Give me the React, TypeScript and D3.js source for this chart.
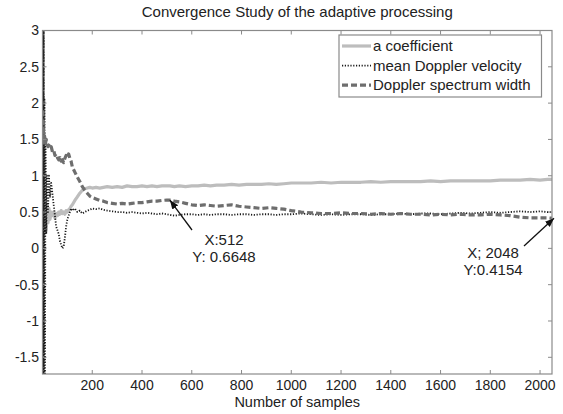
import React from "react";
import * as d3 from "d3";

const samples = [
  1, 2, 3, 4, 5, 6, 8, 10, 12, 15,
  18, 22, 26, 30, 35, 40, 45, 50, 55, 60,
  65, 70, 75, 80, 85, 90, 95, 100, 105, 110,
  115, 120, 130, 140, 150, 160, 170, 180, 190, 200,
  215, 230, 245, 260, 280, 300, 320, 340, 360, 380,
  400, 420, 440, 460, 480, 500, 512, 530, 550, 575,
  600, 625, 650, 675, 700, 730, 760, 790, 820, 850,
  880, 910, 940, 970, 1000, 1040, 1080, 1120, 1160, 1200,
  1240, 1280, 1320, 1360, 1400, 1440, 1480, 1520, 1560, 1600,
  1640, 1680, 1720, 1760, 1800, 1840, 1880, 1920, 1960, 2000,
  2030, 2048,
];

const aCoefficient = [
  1.8, 1.2, 1.65, 0.9, 1.5, 0.6, 1.1, 0.3, 0.8, 0.25,
  0.6, 0.35, 0.55, 0.4, 0.5, 0.45, 0.5, 0.42, 0.48, 0.45,
  0.5, 0.47, 0.52, 0.48, 0.5, 0.47, 0.52, 0.5, 0.53, 0.55,
  0.58, 0.6, 0.66, 0.71, 0.76, 0.8, 0.82, 0.83, 0.84, 0.83,
  0.84, 0.83, 0.84, 0.85, 0.84, 0.85, 0.84, 0.86, 0.85, 0.85,
  0.86, 0.85, 0.86, 0.85, 0.86, 0.86, 0.86, 0.85, 0.86, 0.85,
  0.86, 0.86, 0.87, 0.86, 0.87, 0.87, 0.88, 0.87, 0.88, 0.88,
  0.88, 0.89, 0.88, 0.89, 0.9, 0.9, 0.9, 0.91, 0.9, 0.91,
  0.91, 0.91, 0.92, 0.91, 0.92, 0.92, 0.92, 0.92, 0.93, 0.92,
  0.93, 0.93, 0.93, 0.93, 0.93, 0.94, 0.94, 0.94, 0.95, 0.94,
  0.95, 0.95,
];

const meanVelocity = [
  3.6, -2.2, 3.4, -1.9, 3.2, -2.0, 2.05, -1.8, 1.5, 0.2,
  1.0, 0.5, 1.0, 0.7, 0.9, 0.75, 0.6, 0.45, 0.3, 0.25,
  0.2, 0.1, 0.05, 0.0, 0.02, 0.15, 0.3, 0.4, 0.45, 0.5,
  0.55, 0.52, 0.55, 0.5, 0.52, 0.48, 0.5, 0.52, 0.53, 0.55,
  0.54, 0.55, 0.53, 0.52, 0.51, 0.5, 0.5, 0.49, 0.5, 0.49,
  0.48, 0.49, 0.48, 0.47, 0.48, 0.47, 0.46, 0.45, 0.46, 0.47,
  0.47, 0.46, 0.47, 0.46, 0.47, 0.47, 0.46, 0.47, 0.47, 0.46,
  0.47, 0.47, 0.46, 0.47, 0.47, 0.48, 0.47, 0.46, 0.47, 0.46,
  0.47, 0.47, 0.46, 0.47, 0.47, 0.48, 0.47, 0.48, 0.48, 0.47,
  0.48, 0.49, 0.48, 0.49, 0.5, 0.49, 0.5, 0.51, 0.5, 0.51,
  0.5, 0.5,
];

const spectrumWidth = [
  1.9, 1.5, 1.75, 1.55, 1.6, 1.45, 1.55, 1.5, 1.45, 1.5,
  1.45, 1.4, 1.42, 1.38, 1.4, 1.33, 1.35, 1.28, 1.3, 1.25,
  1.22, 1.25, 1.2, 1.22, 1.18, 1.24, 1.28, 1.25, 1.3, 1.24,
  1.2, 1.12, 1.05, 0.98, 0.92, 0.85, 0.8, 0.76, 0.72, 0.7,
  0.68, 0.66, 0.65, 0.63, 0.62, 0.61, 0.62, 0.61, 0.62, 0.63,
  0.63, 0.64, 0.65, 0.65, 0.66, 0.665, 0.6648, 0.65, 0.64, 0.62,
  0.6, 0.59, 0.6, 0.59, 0.58, 0.59, 0.6, 0.58, 0.57, 0.56,
  0.55, 0.56, 0.55, 0.54, 0.52, 0.5, 0.49, 0.48, 0.48, 0.49,
  0.48, 0.48, 0.47, 0.48, 0.47, 0.48, 0.47, 0.47, 0.46, 0.47,
  0.46, 0.47, 0.46, 0.46, 0.47, 0.46, 0.45, 0.43, 0.42, 0.42,
  0.42, 0.4154,
];

const xTicks = [200, 400, 600, 800, 1000, 1200, 1400, 1600, 1800, 2000];
const yTicks = [-1.5, -1, -0.5, 0, 0.5, 1, 1.5, 2, 2.5, 3];
const seriesNames = ["a coefficient", "mean Doppler velocity", "Doppler spectrum width"];
const annotations = [
  { x: 512, y: 0.6648, lines: ["X:512", "Y: 0.6648"] },
  { x: 2048, y: 0.4154, lines: ["X; 2048", "Y:0.4154"] },
];

const W = 563;
const H = 414;
const L = 42.5, R = 552, T = 30.5, B = 374;
const FONT = "'Liberation Sans', Arial, Helvetica, sans-serif";

export default function App() {
  const x = d3.scaleLinear().domain([0, 2048]).range([L, R]);
  const y = d3.scaleLinear().domain([-1.73, 3]).range([B, T]);

  const mk = (vals: number[]) =>
    d3.line<number>().x((_, i) => x(samples[i])).y((d) => y(d))(vals) || "";

  const styles = [
    { stroke: "#bdbdbd", width: 3.2, dash: "none" },
    { stroke: "#1a1a1a", width: 1.8, dash: "1.2,1.6" },
    { stroke: "#6e6e6e", width: 3.2, dash: "6,3" },
  ];
  const series = [aCoefficient, meanVelocity, spectrumWidth];
  const axisColor = "#8a8a8a";
  const tickLen = 4;

  const annPos = [
    { tx: 224, ty: 245, ax: 192, ay: 230 },
    { tx: 493, ty: 258, ax: 524, ay: 246 },
  ];

  return (
    <svg
      width={W}
      height={H}
      style={{ position: "absolute", left: 0, top: 0, background: "#fff" }}
      fontFamily={FONT}
    >
      <defs>
        <clipPath id="plot">
          <rect x={L} y={T} width={R - L} height={B - T} />
        </clipPath>
        <marker id="arr" viewBox="0 0 10 10" refX="10" refY="5" markerWidth="7" markerHeight="7" orient="auto">
          <path d="M0,1 L10,5 L0,9 z" fill="#111" />
        </marker>
      </defs>
      <rect x={0} y={0} width={W} height={H} fill="#fff" />

      <text x={(L + R) / 2} y={17} textAnchor="middle" fontSize={15} fill="#222">
        Convergence Study of the adaptive processing
      </text>

      <g clipPath="url(#plot)">
        {series.map((vals, i) => (
          <path
            key={i}
            d={mk(vals)}
            fill="none"
            stroke={styles[i].stroke}
            strokeWidth={styles[i].width}
            strokeDasharray={styles[i].dash}
            strokeLinejoin="round"
          />
        ))}
      </g>

      <rect x={L} y={T} width={R - L} height={B - T} fill="none" stroke={axisColor} strokeWidth={1.2} />
      {xTicks.map((t) => (
        <g key={"x" + t}>
          <line x1={x(t)} x2={x(t)} y1={B} y2={B - tickLen} stroke={axisColor} />
          <line x1={x(t)} x2={x(t)} y1={T} y2={T + tickLen} stroke={axisColor} />
          <text x={x(t)} y={389.5} textAnchor="middle" fontSize={14} fill="#222">
            {t}
          </text>
        </g>
      ))}
      {yTicks.map((t) => (
        <g key={"y" + t}>
          <line x1={L} x2={L + tickLen} y1={y(t)} y2={y(t)} stroke={axisColor} />
          <line x1={R} x2={R - tickLen} y1={y(t)} y2={y(t)} stroke={axisColor} />
          <text x={39} y={y(t)} dy="0.35em" textAnchor="end" fontSize={14} fill="#222">
            {t}
          </text>
        </g>
      ))}
      <text x={(L + R) / 2} y={407} textAnchor="middle" fontSize={14.5} fill="#222">
        Number of samples
      </text>

      <rect x={339} y={35} width={202.5} height={62} fill="#fff" stroke={axisColor} strokeWidth={1.2} />
      {seriesNames.map((name, i) => {
        const ry = 46 + i * 19.6;
        return (
          <g key={name}>
            <line
              x1={342}
              x2={371}
              y1={ry}
              y2={ry}
              stroke={styles[i].stroke}
              strokeWidth={styles[i].width}
              strokeDasharray={styles[i].dash}
            />
            <text x={373} y={ry} dy="0.35em" fontSize={15} fill="#222">
              {name}
            </text>
          </g>
        );
      })}

      {annotations.map((a, i) => {
        const p = annPos[i];
        return (
          <g key={i}>
            <line
              x1={p.ax}
              y1={p.ay}
              x2={x(a.x) + (i === 1 ? 2 : 0)}
              y2={y(a.y)}
              stroke="#111"
              strokeWidth={1.3}
              markerEnd="url(#arr)"
            />
            {a.lines.map((ln, j) => (
              <text key={j} x={p.tx} y={p.ty + j * 17} textAnchor="middle" fontSize={15} fill="#222">
                {ln}
              </text>
            ))}
          </g>
        );
      })}
    </svg>
  );
}
